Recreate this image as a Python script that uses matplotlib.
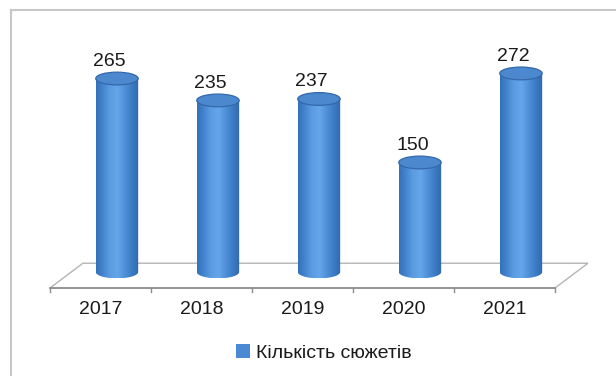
import numpy as np
import matplotlib
matplotlib.use('Agg')
import matplotlib.pyplot as plt
from matplotlib.patches import Ellipse, PathPatch, Polygon, Patch
from matplotlib.path import Path
from matplotlib.colors import LinearSegmentedColormap
from matplotlib.lines import Line2D

years = ['2017', '2018', '2019', '2020', '2021']
counts = [265, 235, 237, 150, 272]
series_name = 'Кількість сюжетів'

plt.rcParams['font.family'] = ['Liberation Sans', 'DejaVu Sans']

# pseudo-3d layout (category units / value units)
W = 0.42          # cylinder width
H = 17.5          # ellipse height
DX = 0.163        # half depth shift in x
FRONT_Y, BACK_Y = -22, 12

body_cmap = LinearSegmentedColormap.from_list(
    'cyl', ['#3470b8', '#4586d0', '#5c9de2', '#65a6ea', '#5090d8', '#3c7cc4', '#3068ac'])

fig = plt.figure(figsize=(6.16, 3.76), dpi=100)
ax = fig.add_axes([0, 0, 1, 1])
ax.axis('off')

# floor
n = len(years)
floor = Polygon([(-0.5 - DX, FRONT_Y), (n - 0.5 - DX, FRONT_Y),
                 (n - 0.5 + DX, BACK_Y), (-0.5 + DX, BACK_Y)],
                closed=True, facecolor='white', edgecolor='#b4b4b4', lw=1.0, zorder=1)
ax.add_patch(floor)
ax.plot([-0.5 - DX, n - 0.5 - DX], [FRONT_Y, FRONT_Y], color='#8c8c8c', lw=1.2, zorder=2)
for b in np.arange(-0.5, n, 1.0):
    ax.plot([b - DX, b - DX], [FRONT_Y, FRONT_Y - 6], color='#8c8c8c', lw=1.0, zorder=2)

grad = np.linspace(0, 1, 256).reshape(1, -1)
arc = np.linspace(2 * np.pi, np.pi, 60)

for i, (yr, v) in enumerate(zip(years, counts)):
    x0, x1 = i - W / 2, i + W / 2
    # body outline: left side up, across top, down right side, lower half ellipse back
    verts = [(x0, 0), (x0, v), (x1, v)]
    verts += list(zip(i + W / 2 * np.cos(arc), H / 2 * np.sin(arc)))
    verts.append((x0, 0))
    clip = PathPatch(Path(verts), facecolor='none', edgecolor='none', transform=ax.transData)
    ax.add_patch(clip)
    im = ax.imshow(grad, extent=[x0, x1, -H / 2, v], aspect='auto', cmap=body_cmap,
                   origin='lower', zorder=3, interpolation='bilinear')
    im.set_clip_path(clip)
    top = Ellipse((i, v), W, H, facecolor='#4c88ce', edgecolor='#3468aa', lw=0.9, zorder=4)
    ax.add_patch(top)
    ax.annotate(str(v), (i - 0.075, v), xytext=(0, 12.5), textcoords='offset points',
                ha='center', va='center', fontsize=14, color='#1a1a1a', zorder=5)
    ax.text(i - DX, -52, yr, ha='center', va='center', fontsize=14, color='#1a1a1a')

ax.set_xlim(-1.158, 4.941)
ax.set_ylim(-142.5, 372.6)

# outer frame (left and top edges visible)
fig.add_artist(Line2D([11 / 616, 11 / 616], [0, 1 - 10 / 376], color='#c8c8c8', lw=1.5,
                      transform=fig.transFigure))
fig.add_artist(Line2D([11 / 616, 1], [1 - 10 / 376, 1 - 10 / 376], color='#c8c8c8', lw=1.5,
                      transform=fig.transFigure))

fig.legend(handles=[Patch(facecolor='#4a8ad4', label=series_name)], loc='center',
           bbox_to_anchor=(0.526, 0.061), frameon=False, fontsize=14,
           handlelength=0.7, handleheight=0.7, handletextpad=0.3, labelcolor='#1a1a1a')

fig.savefig('out.png', dpi=100)
